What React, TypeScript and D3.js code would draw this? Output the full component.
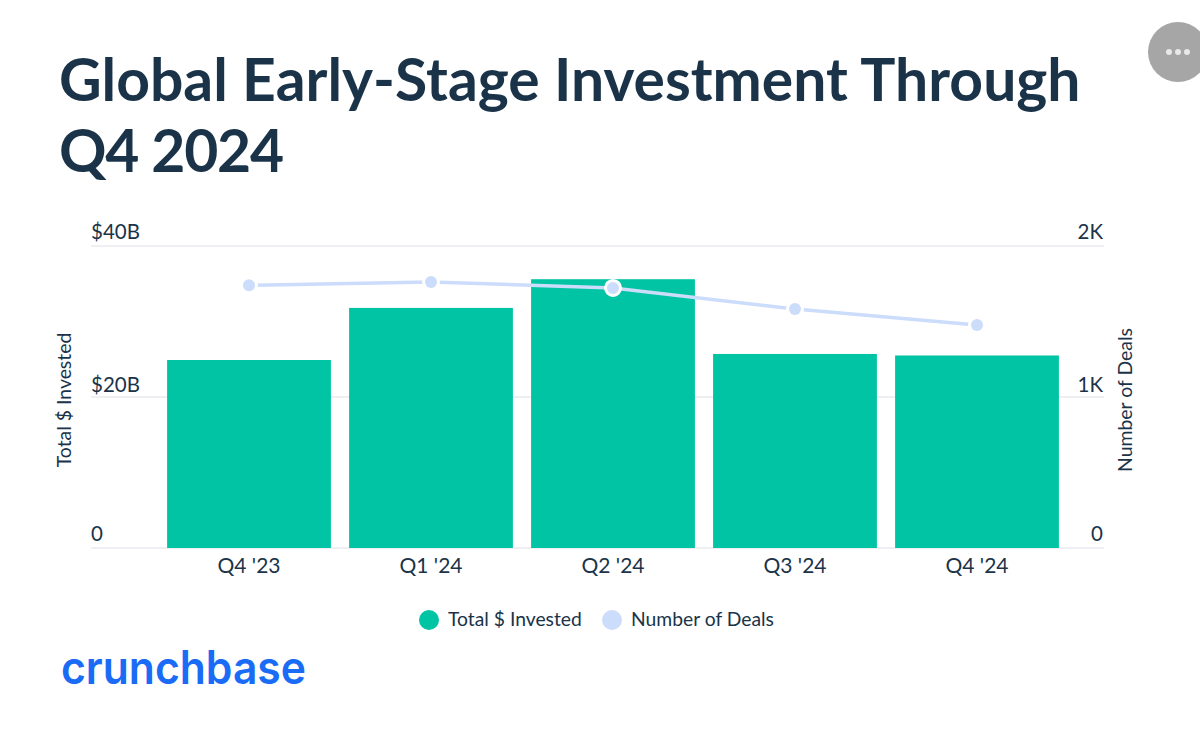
import * as d3 from 'd3';

const quarters = ["Q4 '23", "Q1 '24", "Q2 '24", "Q3 '24", "Q4 '24"];
const invested = [24.9, 31.8, 35.6, 25.7, 25.5];
const deals = [1740, 1762, 1722, 1583, 1477];
const investedTicks = [0, 20, 40];
const dealTicks = [0, 1000, 2000];
const titleLines = ['Global Early-Stage Investment Through', 'Q4 2024'];

const W = 1200;
const H = 731;
const FONT = 'Lato, "Open Sans", sans-serif';
const INK = '#1a3349';
const TEAL = '#00c4a3';
const PERIWINKLE = '#ccdcfb';

export default function App() {
  const x = d3.scaleBand<string>().domain(quarters).range([158, 1068]).paddingInner(0.1).paddingOuter(0.05);
  const yLeft = d3.scaleLinear().domain([0, 40]).range([548, 246]);
  const yRight = d3.scaleLinear().domain([0, 2000]).range([548, 246]);
  const cx = (q: string) => (x(q) ?? 0) + x.bandwidth() / 2;

  const line = d3
    .line<number>()
    .x((_, i) => cx(quarters[i]))
    .y((d) => yRight(d));

  return (
    <svg
      width={W}
      height={H}
      style={{ position: 'absolute', left: 0, top: 0, background: '#fff' }}
      fontFamily={FONT}
    >
      {titleLines.map((t, i) => (
        <text
          key={t}
          x={59}
          y={101 + i * 71}
          fontSize={58.8}
          fontWeight={700}
          fill={INK}
          letterSpacing={i === 1 ? -1.2 : 0}
        >
          {t}
        </text>
      ))}

      {/* menu button */}
      <circle cx={1178} cy={52} r={30} fill="#a6a6a6" />
      {[-9, 0, 9].map((d) => (
        <circle key={d} cx={1178 + d} cy={52} r={3} fill="#e8e8e8" />
      ))}

      {/* gridlines */}
      {investedTicks.map((t) => (
        <line key={t} x1={91} x2={1104} y1={yLeft(t)} y2={yLeft(t)} stroke="#e8eaee" strokeWidth={1.5} />
      ))}

      {/* axis labels */}
      {investedTicks.map((t) => (
        <text key={`l${t}`} x={91} y={yLeft(t) - (t === 20 ? 5 : 7)} fontSize={20.5} fill={INK}>
          {t === 0 ? '0' : `$${t}B`}
        </text>
      ))}
      {dealTicks.map((t) => (
        <text key={`r${t}`} x={1103} y={yRight(t) - (t === 1000 ? 5 : 7)} fontSize={20.5} fill={INK} textAnchor="end">
          {t === 0 ? '0' : `${t / 1000}K`}
        </text>
      ))}
      <text transform="translate(71,400) rotate(-90)" fontSize={19.4} fill={INK} textAnchor="middle">
        Total $ Invested
      </text>
      <text transform="translate(1132,400) rotate(-90)" fontSize={19.4} fill={INK} textAnchor="middle">
        Number of Deals
      </text>

      {/* bars */}
      {quarters.map((q, i) => (
        <rect
          key={q}
          x={x(q)}
          y={yLeft(invested[i])}
          width={x.bandwidth()}
          height={yLeft(0) - yLeft(invested[i])}
          fill={TEAL}
        />
      ))}

      {/* line */}
      <path d={line(deals) ?? undefined} fill="none" stroke={PERIWINKLE} strokeWidth={3.5} />
      {deals.map((d, i) =>
        i === 2 ? (
          <circle key={i} cx={cx(quarters[i])} cy={yRight(d)} r={7.5} fill={PERIWINKLE} stroke="#fff" strokeWidth={3} />
        ) : (
          <g key={i}>
            <circle cx={cx(quarters[i])} cy={yRight(d)} r={9} fill="#fff" />
            <circle cx={cx(quarters[i])} cy={yRight(d)} r={6} fill={PERIWINKLE} />
          </g>
        ),
      )}

      {/* category labels */}
      {quarters.map((q) => (
        <text key={`c${q}`} x={cx(q)} y={573} fontSize={21} fill={INK} textAnchor="middle">
          {q}
        </text>
      ))}

      {/* legend */}
      <circle cx={429} cy={620} r={10} fill={TEAL} />
      <text x={448} y={626} fontSize={19.3} fill={INK}>
        Total $ Invested
      </text>
      <circle cx={612} cy={620} r={10} fill={PERIWINKLE} />
      <text x={631} y={626} fontSize={19.3} fill={INK}>
        Number of Deals
      </text>

      {/* brand wordmark */}
      <text
        x={61}
        y={684}
        fontSize={46}
        fontWeight={600}
        fill="#1a6bf5"
        fontFamily="Inter, sans-serif"
        textLength={245}
        lengthAdjust="spacingAndGlyphs"
      >
        crunchbase
      </text>
    </svg>
  );
}
